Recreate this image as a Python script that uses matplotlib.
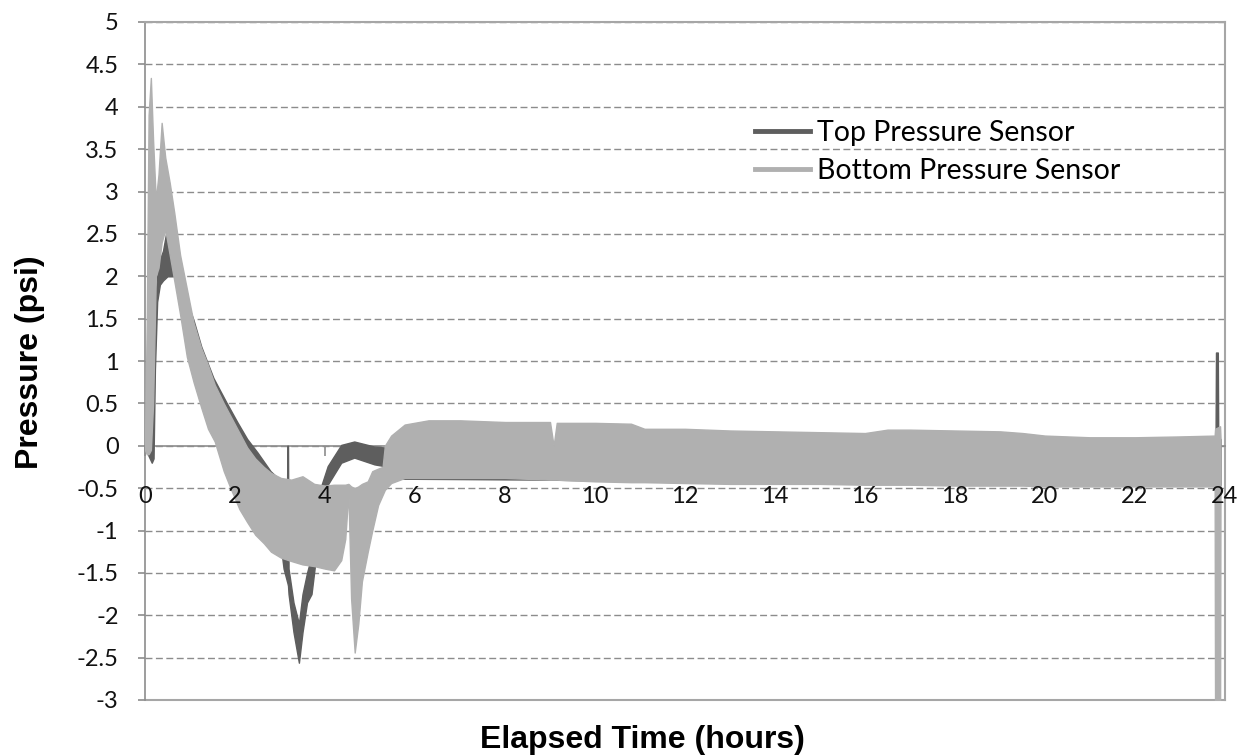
import numpy as np
import matplotlib
matplotlib.use("Agg")
from matplotlib import pyplot as plt
from matplotlib import transforms
from matplotlib.lines import Line2D

# Pressure sensor record, 24 h test. Each sensor is stored as the lower and
# upper edge of its noisy trace (psi) against elapsed time (hours).
top_t = [0.00, 0.08, 0.15, 0.19, 0.22, 0.27, 0.33, 0.40, 0.50, 0.65, 0.80,
         1.00, 1.08, 1.25, 1.52, 1.80, 2.05, 2.27, 2.50, 2.79, 2.95, 3.08,
         3.155, 3.165, 3.178, 3.19, 3.30, 3.42, 3.50, 3.60, 3.70, 3.78,
         3.90, 4.06, 4.36, 4.65, 5.10, 5.32, 5.45, 5.60, 6.00, 9.00, 12.0,
         20.0, 22.8, 23.5, 23.79, 23.80, 23.84, 23.85, 23.90]
top_lo = [-0.02, -0.12, -0.20, -0.15, 0.90, 1.70, 1.90, 1.95, 2.00, 2.00, 1.70,
          1.35, 1.20, 0.95, 0.55, 0.25, 0.00, -0.15, -0.30, -0.55, -0.90, -1.45,
          -1.60, -1.62, -1.65, -1.75, -2.20, -2.56, -2.20, -1.85, -1.75, -1.40,
          -0.90, -0.46, -0.20, -0.14, -0.22, -0.24, -0.35, -0.39, -0.39, -0.40, -0.43,
          -0.46, -0.46, -0.46, -0.46, -0.30, -0.30, -0.46, -0.46]
top_hi = [0.02, 0.00, -0.05, 0.80, 1.70, 2.00, 2.20, 2.30, 2.60, 2.60, 2.10,
          1.60, 1.48, 1.17, 0.80, 0.52, 0.28, 0.08, -0.08, -0.30, -0.38, -0.50,
          -0.60, 0.00, 0.00, -1.45, -1.85, -2.10, -1.75, -1.50, -1.30, -1.00,
          -0.50, -0.24, 0.01, 0.05, -0.01, -0.02, -0.10, -0.30, -0.30, -0.30, -0.30,
          -0.30, 0.00, 0.10, 0.10, 1.10, 1.10, 0.10, 0.08]

bottom_t = [0.00, 0.04, 0.08, 0.13, 0.18, 0.24, 0.30, 0.37, 0.45, 0.55, 0.65,
            0.78, 0.93, 1.08, 1.25, 1.40, 1.55, 1.75, 1.90, 2.10, 2.27, 2.45,
            2.64, 2.80, 3.02, 3.25, 3.50, 3.76, 4.00, 4.20, 4.36, 4.45, 4.52,
            4.58, 4.66, 4.74, 4.82, 4.95, 5.05, 5.18, 5.28, 5.33, 5.47, 5.77,
            6.30, 7.00, 8.00, 9.00, 9.08, 9.15, 10.0, 10.8, 11.1, 12.0, 13.0,
            14.0, 15.0, 16.0, 16.5, 17.0, 18.0, 19.0, 19.5, 20.0, 21.0, 22.0,
            23.0, 23.77, 23.78, 23.89, 23.90]
bottom_lo = [-0.05, -0.10, -0.10, -0.05, 0.50, 2.00, 2.10, 2.40, 2.55, 2.25, 1.95,
             1.55, 1.05, 0.75, 0.45, 0.20, 0.05, -0.30, -0.50, -0.75, -0.90, -1.05,
             -1.15, -1.25, -1.32, -1.36, -1.40, -1.42, -1.45, -1.47, -1.35, -1.10, -0.55,
             -1.80, -2.44, -2.10, -1.60, -1.25, -1.00, -0.70, -0.58, -0.52, -0.44, -0.38,
             -0.38, -0.38, -0.38, -0.40, -0.40, -0.40, -0.42, -0.43, -0.43, -0.44, -0.45,
             -0.45, -0.45, -0.46, -0.46, -0.46, -0.47, -0.47, -0.47, -0.48, -0.48, -0.48,
             -0.48, -0.48, -3.30, -3.30, -0.45]
bottom_hi = [0.05, 1.50, 3.90, 4.34, 3.60, 2.90, 3.20, 3.81, 3.40, 3.10, 2.75,
             2.25, 1.85, 1.45, 1.15, 0.95, 0.72, 0.50, 0.35, 0.15, -0.02, -0.15,
             -0.25, -0.32, -0.38, -0.40, -0.36, -0.45, -0.47, -0.46, -0.46, -0.46, -0.45,
             -0.48, -0.50, -0.48, -0.45, -0.42, -0.30, -0.27, -0.25, 0.00, 0.12, 0.25,
             0.30, 0.30, 0.28, 0.28, 0.00, 0.27, 0.27, 0.26, 0.20, 0.20, 0.18,
             0.17, 0.16, 0.15, 0.19, 0.19, 0.18, 0.17, 0.15, 0.12, 0.10, 0.10,
             0.11, 0.12, 0.20, 0.23, 0.10]

x_ticks = list(range(0, 25, 2))
y_ticks = [5, 4.5, 4, 3.5, 3, 2.5, 2, 1.5, 1, 0.5, 0, -0.5, -1, -1.5, -2, -2.5, -3]
y_tick_labels = ["5", "4.5", "4", "3.5", "3", "2.5", "2", "1.5", "1", "0.5", "0",
                 "-0.5", "-1", "-1.5", "-2", "-2.5", "-3"]
series_names = ["Top Pressure Sensor", "Bottom Pressure Sensor"]

dark = "#5e5e5e"
light = "#b0b0b0"
frame = "#8c8c8c"
tick_font = "Lato"

W, H = 1245, 755
fig = plt.figure(figsize=(W / 100, H / 100), dpi=100)
ax = fig.add_axes([145 / W, 55 / H, 1080 / W, 678 / H])
ax.set_xlim(0, 24)
ax.set_ylim(-3, 5)

# dashed horizontal gridlines stay behind the traces
ax.set_axisbelow(True)
ax.set_yticks(y_ticks)
ax.set_yticklabels(y_tick_labels, fontsize=17, family=tick_font, color="#111111")
ax.yaxis.grid(True, color=frame, lw=1.0, ls=(0, (5, 2.5)))

# x axis crosses at zero, plot area framed by a light border
ax.spines["bottom"].set_position(("data", 0))
for side in ["left", "bottom"]:
    ax.spines[side].set_color(frame)
    ax.spines[side].set_linewidth(1.2)
for side in ["top", "right"]:
    ax.spines[side].set_color("#a6a6a6")
    ax.spines[side].set_linewidth(1.5)
ax.axhline(-3, color="#a6a6a6", lw=1.5, zorder=2.5, clip_on=False)

# tick marks sit under the traces, the hour labels are printed on top of them
ax.set_xticks(x_ticks)
ax.set_xticklabels([])
ax.tick_params(axis="x", direction="out", length=7, width=1.2, color=frame)
ax.tick_params(axis="y", direction="out", length=5, width=1.2, color=frame, pad=14)
label_trans = transforms.offset_copy(ax.transData, fig=fig, y=-29, units="points")
for v in x_ticks:
    ax.text(v, 0, str(v), transform=label_trans, ha="center", va="top",
            fontsize=17, family=tick_font, color="#111111", zorder=6, clip_on=False)

ax.fill_between(top_t, top_lo, top_hi, color=dark, lw=1.0, zorder=3)
ax.fill_between(bottom_t, bottom_lo, bottom_hi, color=light, lw=1.0, zorder=4)

handles = [Line2D([], [], color=dark, lw=3.5), Line2D([], [], color=light, lw=3.5)]
ax.legend(handles, series_names, loc="upper left", bbox_to_anchor=(0.565, 0.855),
          frameon=False, prop={"family": tick_font, "size": 20.5},
          handlelength=1.93, handletextpad=0.25, labelspacing=0.4,
          borderpad=0, borderaxespad=0)

fig.text(30 / W, 1 - 362 / H, "Pressure (psi)", rotation=90, ha="center",
         va="center", fontsize=23, fontweight="bold", family="Liberation Sans")
fig.text(642 / W, 1 - 740 / H, "Elapsed Time (hours)", ha="center", va="center",
         fontsize=23, fontweight="bold", family="Liberation Sans")

fig.savefig("out.png", dpi=100)
